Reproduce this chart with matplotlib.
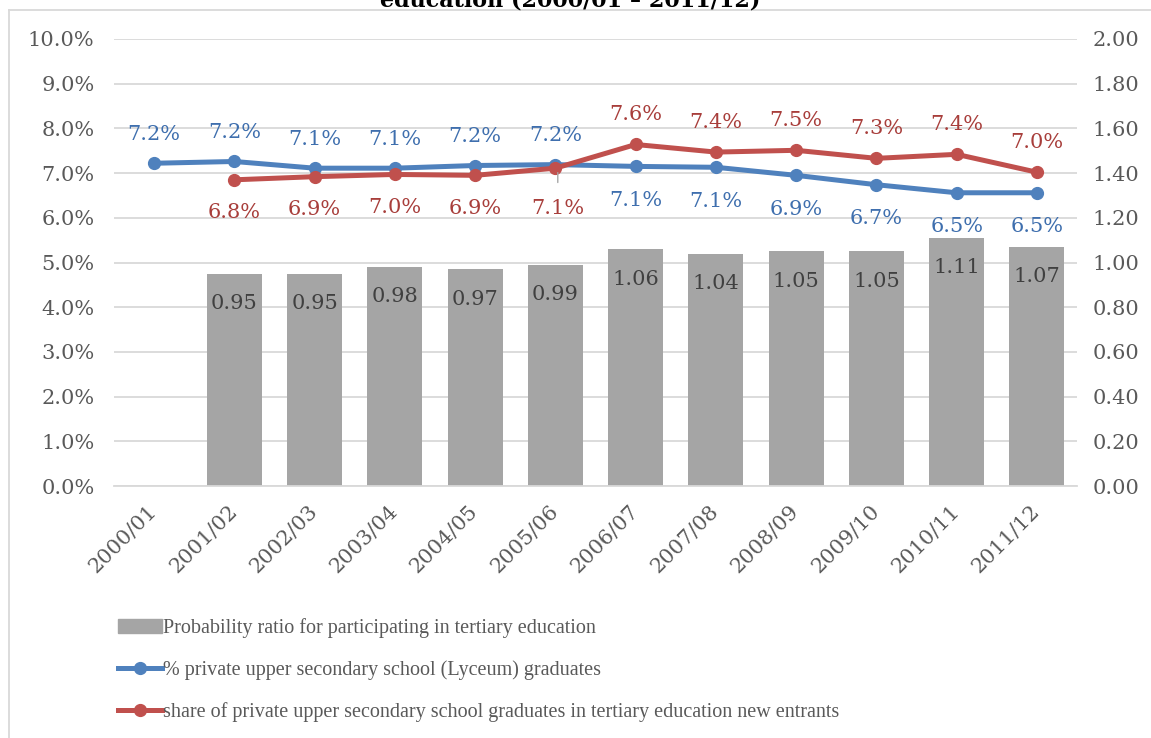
import numpy as np
import matplotlib
matplotlib.use('Agg')
import matplotlib.pyplot as plt
from matplotlib.lines import Line2D

# data
years = ['2000/01', '2001/02', '2002/03', '2003/04', '2004/05', '2005/06',
         '2006/07', '2007/08', '2008/09', '2009/10', '2010/11', '2011/12']
ratio = [np.nan, 0.95, 0.95, 0.98, 0.97, 0.99, 1.06, 1.04, 1.05, 1.05, 1.11, 1.07]
lyceum = [7.22, 7.26, 7.11, 7.11, 7.17, 7.19, 7.15, 7.13, 6.95, 6.74, 6.56, 6.56]
entrants = [np.nan, 6.85, 6.92, 6.97, 6.95, 7.11, 7.64, 7.47, 7.51, 7.33, 7.42, 7.02]
lyceum_lbl = ['7.2%', '7.2%', '7.1%', '7.1%', '7.2%', '7.2%',
              '7.1%', '7.1%', '6.9%', '6.7%', '6.5%', '6.5%']
entrants_lbl = ['', '6.8%', '6.9%', '7.0%', '6.9%', '7.1%',
                '7.6%', '7.4%', '7.5%', '7.3%', '7.4%', '7.0%']
left_ticks = [0, 1, 2, 3, 4, 5, 6, 7, 8, 9, 10]
right_ticks = [0, 0.2, 0.4, 0.6, 0.8, 1.0, 1.2, 1.4, 1.6, 1.8, 2.0]

legend_labels = ['Probability ratio for participating in tertiary education',
                 '% private upper secondary school (Lyceum) graduates',
                 'share of private upper secondary school graduates in tertiary education new entrants']

BLUE = '#4F81BD'
RED = '#C0504D'
BAR = '#A5A5A5'
BLUE_TXT = '#3F6FAE'
RED_TXT = '#A83E3B'
TICK_TXT = '#595959'
GRID = '#D9D9D9'
NUM_FONT = 'DejaVu Serif'
TXT_FONT = 'Liberation Serif'
FS = 15

fig = plt.figure(figsize=(11.51, 7.38), dpi=100)
ax = fig.add_axes([114 / 1151, 1 - 486 / 738, (1077 - 114) / 1151, (486 - 39) / 738])
ax2 = ax.twinx()
ax.set_zorder(ax2.get_zorder() + 1)
ax.patch.set_visible(False)

x = np.arange(len(years))

# bars on right axis (grid drawn here so it stays behind the bars)
ax2.bar(x, ratio, width=0.685, color=BAR, zorder=2)
ax2.set_ylim(0, 2.0)
ax2.set_yticks(right_ticks)
ax2.set_yticklabels([f'{v:.2f}' for v in right_ticks])
for xi, v in zip(x, ratio):
    if np.isnan(v):
        continue
    ax2.annotate(f'{v:.2f}', xy=(xi, v), xytext=(0, -30 * 0.72), textcoords='offset points',
                 ha='center', va='center', fontsize=FS, family=NUM_FONT, color='#404040', zorder=5)

# lines on left axis
ax.plot(x, lyceum, color=BLUE, lw=3.6, marker='o', ms=8.5, zorder=3)
ax.plot(x, entrants, color=RED, lw=3.6, marker='o', ms=8.5, zorder=4)
ax.set_ylim(0, 10)
ax.set_yticks(left_ticks)
ax.set_yticklabels([f'{v:.1f}%' for v in left_ticks])
ax.set_xlim(-0.5, len(years) - 0.5)
ax.set_xticks(x)
ax.set_xticklabels(years, rotation=45, ha='right', va='center', rotation_mode='anchor')

for i, (v, t) in enumerate(zip(lyceum, lyceum_lbl)):
    dy = 29 if i < 6 else -34
    ax.annotate(t, xy=(i, v), xytext=(0, dy * 0.72), textcoords='offset points',
                ha='center', va='center', fontsize=FS, family=NUM_FONT, color=BLUE_TXT, zorder=6)
for i, (v, t) in enumerate(zip(entrants, entrants_lbl)):
    if not t:
        continue
    if i == 5:
        ax.annotate(t, xy=(i + 0.03, v - 0.1), xytext=(0, -36 * 0.72), textcoords='offset points',
                    ha='center', va='center', fontsize=FS, family=NUM_FONT, color=RED_TXT, zorder=6,
                    arrowprops=dict(arrowstyle='-', color='#A6A6A6', lw=1, shrinkA=10, shrinkB=0))
        continue
    dy = -33 if i < 6 else 30
    ax.annotate(t, xy=(i, v), xytext=(0, dy * 0.72), textcoords='offset points',
                ha='center', va='center', fontsize=FS, family=NUM_FONT, color=RED_TXT, zorder=6)

# styling
for a in (ax, ax2):
    for s in a.spines.values():
        s.set_visible(False)
    a.tick_params(length=0, labelsize=FS, labelcolor=TICK_TXT)
    for lab in a.get_yticklabels() + a.get_xticklabels():
        lab.set_family(NUM_FONT)
ax2.spines['bottom'].set_visible(True)
ax2.spines['bottom'].set_color(GRID)
ax2.spines['bottom'].set_linewidth(1.3)
ax.tick_params(axis='y', pad=14)
ax.tick_params(axis='x', pad=16)
ax2.tick_params(axis='y', pad=11)
ax2.yaxis.grid(True, color=GRID, lw=1.3)
ax2.set_axisbelow(True)

# legend
handles = [plt.Rectangle((0, 0), 1, 1, color=BAR),
           Line2D([], [], color=BLUE, lw=3.6, marker='o', ms=8.5),
           Line2D([], [], color=RED, lw=3.6, marker='o', ms=8.5)]
fig.legend(handles, legend_labels, loc='upper left', bbox_to_anchor=(100 / 1151, 1 - 600 / 738),
           frameon=False, handlelength=2.2, handletextpad=0.05, labelspacing=1.1,
           prop={'family': TXT_FONT, 'size': 14.5}, labelcolor=TICK_TXT)

# outer chart border (only left and top edges visible)
fig.add_artist(Line2D([9 / 1151, 9 / 1151], [0, 1 - 10 / 738], transform=fig.transFigure, color=GRID, lw=1.3))
fig.add_artist(Line2D([9 / 1151, 1], [1 - 10 / 738, 1 - 10 / 738], transform=fig.transFigure, color=GRID, lw=1.3))

# title, mostly cut off at the top edge
fig.text(570 / 1151, 1 - 7 / 738, 'education (2000/01 \u2013 2011/12)', ha='center', va='baseline',
         fontsize=16, fontweight='bold', family=NUM_FONT, color='black')

fig.savefig('out.png', dpi=100)
